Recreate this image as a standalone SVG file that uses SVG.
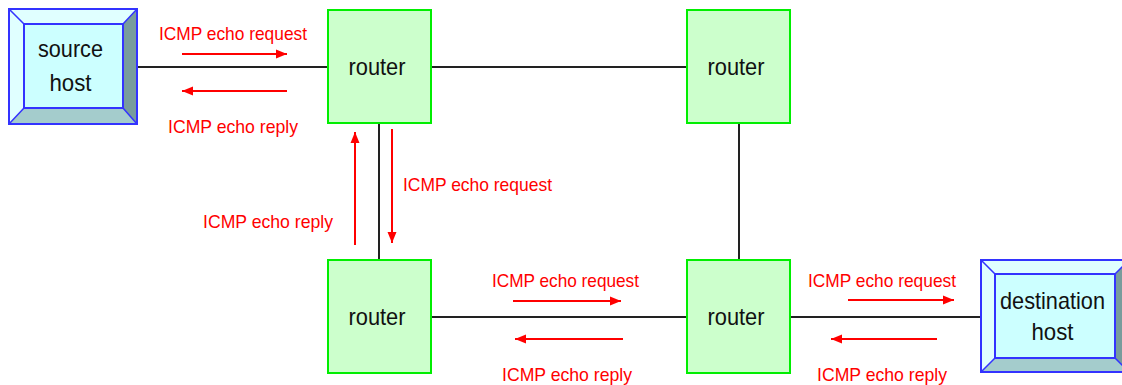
<svg xmlns="http://www.w3.org/2000/svg" width="1122" height="385" viewBox="0 0 1122 385">
  <style>
    .router { fill: #ccffcc; stroke: #00ee00; stroke-width: 2; }
    .node-text { font-family: "Liberation Sans", Arial, sans-serif; font-size: 24px; fill: #111; text-anchor: middle; }
    .label { font-family: "Liberation Sans", Arial, sans-serif; font-size: 18.5px; fill: #ff0000; }
    .link { stroke: #222; stroke-width: 2; fill: none; }
    .flow { stroke: #ff0000; stroke-width: 2; fill: none; marker-end: url(#head); }
    .bevel-light { fill: #e0ffff; }
    .bevel-bottom { fill: #a4cccc; }
    .bevel-right { fill: #789c9c; }
    .face { fill: #ccffff; }
    .edge { fill: none; stroke: #3333ff; stroke-width: 2; }
    .edge-thin { fill: none; stroke: #3333ff; stroke-width: 1.5; }
  </style>
  <defs>
    <marker id="head" markerUnits="userSpaceOnUse" markerWidth="12" markerHeight="10" refX="11" refY="5" orient="auto">
      <path d="M0,0.5 L11,5 L0,9.5 z" fill="#ff0000"/>
    </marker>
  </defs>

  <rect width="1122" height="385" fill="#ffffff"/>

  <!-- links between nodes -->
  <g id="connectors">
    <line class="link" x1="137" y1="67" x2="328" y2="67"/>
    <line class="link" x1="431" y1="67" x2="687" y2="67"/>
    <line class="link" x1="379" y1="123" x2="379" y2="260"/>
    <line class="link" x1="739" y1="123" x2="739" y2="260"/>
    <line class="link" x1="431" y1="317" x2="687" y2="317"/>
    <line class="link" x1="790" y1="317" x2="981" y2="317"/>
  </g>

  <!-- source host: bevelled box -->
  <g id="source-host">
    <polygon class="bevel-light" points="9,9 137,9 123,24 24,24"/>
    <polygon class="bevel-light" points="9,9 24,24 24,108 9,124"/>
    <polygon class="bevel-right" points="137,9 137,124 123,108 123,24"/>
    <polygon class="bevel-bottom" points="9,124 137,124 123,108 24,108"/>
    <rect class="face" x="24" y="24" width="99" height="84"/>
    <rect class="edge" x="9" y="9" width="128" height="115"/>
    <rect class="edge" x="24" y="24" width="99" height="84"/>
    <path class="edge-thin" d="M9,9 L24,24 M137,9 L123,24 M9,124 L24,108 M137,124 L123,108"/>
    <text class="node-text" x="70.5" y="57" textLength="65" lengthAdjust="spacingAndGlyphs">source</text>
    <text class="node-text" x="70.5" y="91" textLength="42" lengthAdjust="spacingAndGlyphs">host</text>
  </g>

  <!-- destination host: bevelled box -->
  <g id="destination-host">
    <polygon class="bevel-light" points="981,260 1129,260 1115,274 995,274"/>
    <polygon class="bevel-light" points="981,260 995,274 995,358 981,372"/>
    <polygon class="bevel-right" points="1129,260 1129,372 1115,358 1115,274"/>
    <polygon class="bevel-bottom" points="981,372 1129,372 1115,358 995,358"/>
    <rect class="face" x="995" y="274" width="120" height="84"/>
    <rect class="edge" x="981" y="260" width="148" height="112"/>
    <rect class="edge" x="995" y="274" width="120" height="84"/>
    <path class="edge-thin" d="M981,260 L995,274 M1129,260 L1115,274 M981,372 L995,358 M1129,372 L1115,358"/>
    <text class="node-text" x="1052.5" y="309" textLength="105" lengthAdjust="spacingAndGlyphs">destination</text>
    <text class="node-text" x="1052.5" y="340" textLength="42" lengthAdjust="spacingAndGlyphs">host</text>
  </g>

  <!-- routers -->
  <g id="router-top-left">
    <rect class="router" x="328" y="10" width="103" height="113"/>
    <text class="node-text" x="377" y="75" textLength="57" lengthAdjust="spacingAndGlyphs">router</text>
  </g>
  <g id="router-top-right">
    <rect class="router" x="687" y="10" width="103" height="113"/>
    <text class="node-text" x="736" y="75" textLength="57" lengthAdjust="spacingAndGlyphs">router</text>
  </g>
  <g id="router-bottom-left">
    <rect class="router" x="328" y="260" width="103" height="113"/>
    <text class="node-text" x="377" y="325" textLength="57" lengthAdjust="spacingAndGlyphs">router</text>
  </g>
  <g id="router-bottom-right">
    <rect class="router" x="687" y="260" width="103" height="113"/>
    <text class="node-text" x="736" y="325" textLength="57" lengthAdjust="spacingAndGlyphs">router</text>
  </g>

  <!-- echo traffic arrows -->
  <g id="flows">
    <line class="flow" x1="182" y1="54" x2="287" y2="54"/>
    <line class="flow" x1="287" y1="91" x2="182" y2="91"/>
    <line class="flow" x1="355" y1="245" x2="355" y2="132"/>
    <line class="flow" x1="392" y1="129" x2="392" y2="243"/>
    <line class="flow" x1="513" y1="301" x2="621" y2="301"/>
    <line class="flow" x1="623" y1="339" x2="515" y2="339"/>
    <line class="flow" x1="848" y1="300" x2="954" y2="300"/>
    <line class="flow" x1="937" y1="339" x2="831" y2="339"/>
  </g>

  <!-- arrow labels -->
  <g id="labels">
    <text class="label" x="159" y="40" textLength="148" lengthAdjust="spacingAndGlyphs">ICMP echo request</text>
    <text class="label" x="168" y="133" textLength="130" lengthAdjust="spacingAndGlyphs">ICMP echo reply</text>
    <text class="label" x="403" y="191" textLength="149" lengthAdjust="spacingAndGlyphs">ICMP echo request</text>
    <text class="label" x="203" y="228" textLength="130" lengthAdjust="spacingAndGlyphs">ICMP echo reply</text>
    <text class="label" x="492" y="287" textLength="147" lengthAdjust="spacingAndGlyphs">ICMP echo request</text>
    <text class="label" x="502" y="381" textLength="130" lengthAdjust="spacingAndGlyphs">ICMP echo reply</text>
    <text class="label" x="808" y="287" textLength="148" lengthAdjust="spacingAndGlyphs">ICMP echo request</text>
    <text class="label" x="817" y="381" textLength="130" lengthAdjust="spacingAndGlyphs">ICMP echo reply</text>
  </g>
</svg>
